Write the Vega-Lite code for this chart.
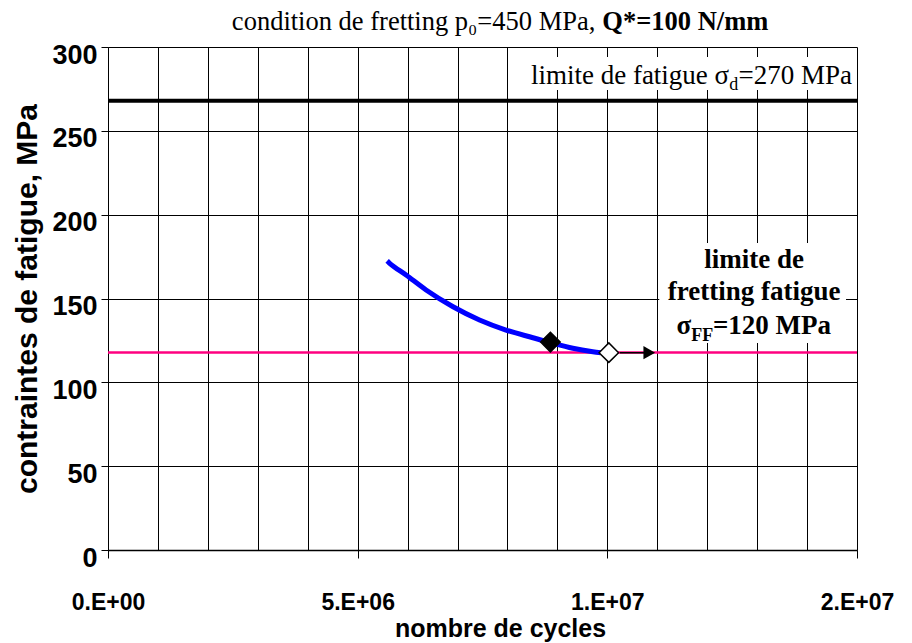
{
  "$schema": "https://vega.github.io/schema/vega-lite/v6.json",
  "width": 749,
  "height": 503,
  "autosize": {"type": "none"},
  "padding": {"left": 108, "top": 47, "right": 55, "bottom": 93},
  "background": "white",
  "config": {"view": {"stroke": null}},
  "resolve": {"axis": {"x": "independent", "y": "independent"}},
  "datasets": {
    "curve": [
      {"x": 5590000, "y": 172.4},
      {"x": 5630000, "y": 171.3},
      {"x": 5970000, "y": 164.0},
      {"x": 6370000, "y": 155.1},
      {"x": 6910000, "y": 145.1},
      {"x": 7440000, "y": 137.2},
      {"x": 7970000, "y": 131.2},
      {"x": 8510000, "y": 126.6},
      {"x": 8870000, "y": 123.6},
      {"x": 9310000, "y": 120.3},
      {"x": 9710000, "y": 118.3},
      {"x": 9870000, "y": 117.7}
    ],
    "pts": [
      {"x": 8860000, "y": 124.0, "kind": "filled"},
      {"x": 10030000, "y": 117.7, "kind": "open"}
    ],
    "limits": [
      {"x": 0, "y": 117.8, "series": "fretting"},
      {"x": 15000000, "y": 117.8, "series": "fretting"},
      {"x": 0, "y": 268, "series": "fatigue"},
      {"x": 15000000, "y": 268, "series": "fatigue"}
    ],
    "arrow": [{"x": 10250000, "x2": 10880000, "y": 117.7}],
    "head": [{"x": 10840000, "y": 117.7}],
    "boxes": [
      {"x": 8050000, "x2": 14970000, "y": 274.3, "y2": 294},
      {"x": 11040000, "x2": 14780000, "y": 123.5, "y2": 183.1}
    ],
    "labels": [
      {"g": "title_right", "text": "condition de fretting p₀=450 MPa,", "x": 9760000, "y": 310.1},
      {"g": "titlebold_left", "text": "Q*=100 N/mm", "x": 9900000, "y": 310.1},
      {"g": "serif_right", "text": "limite de fatigue σ", "x": 12440000, "y": 277.9},
      {"g": "serif_sub", "text": "d", "x": 12440000, "y": 274.3},
      {"g": "serif_right", "text": "=270 MPa", "x": 14900000, "y": 277.9},
      {"g": "serifbold_center", "text": "limite de", "x": 12940000, "y": 168.2},
      {"g": "serifbold_center", "text": "fretting fatigue", "x": 12940000, "y": 149.1},
      {"g": "serifbold_right", "text": "σ", "x": 11680000, "y": 128.8},
      {"g": "serifbold_sub", "text": "FF", "x": 11680000, "y": 124.6},
      {"g": "serifbold_right", "text": "=120 MPa", "x": 14480000, "y": 128.8}
    ]
  },
  "layer": [
    {
      "data": {"name": "limits"},
      "transform": [{"filter": "datum.series == 'fretting'"}],
      "mark": {"type": "line", "color": "#ff0080", "strokeWidth": 2.5},
      "encoding": {
        "x": {"field": "x", "type": "quantitative",
          "scale": {"domain": [0, 15000000], "nice": false, "zero": true},
          "axis": {"orient": "top", "values": [0,1000000,2000000,3000000,4000000,5000000,6000000,7000000,8000000,9000000,10000000,11000000,12000000,13000000,14000000,15000000],
            "grid": true, "gridColor": "black", "gridOpacity": 1, "gridWidth": 1,
            "ticks": false, "labels": false, "domain": false, "title": null}},
        "y": {"field": "y", "type": "quantitative",
          "scale": {"domain": [0, 300], "nice": false},
          "axis": {"orient": "left", "values": [0, 50, 100, 150, 200, 250, 300],
            "grid": true, "gridColor": "black", "gridOpacity": 1, "gridWidth": 1,
            "domainColor": "black", "domainWidth": 1,
            "tickColor": "black", "tickSize": 7, "tickWidth": 1,
            "labelFont": "Liberation Sans", "labelFontWeight": "bold", "labelFontSize": 27, "labelColor": "black", "labelPadding": 4, "labelOffset": 8,
            "title": "contraintes de fatigue, MPa",
            "titleFont": "Liberation Sans", "titleFontWeight": "bold", "titleFontSize": 30, "titleColor": "black", "titlePadding": 9}}
      }
    },
    {
      "data": {"name": "limits"},
      "transform": [{"filter": "datum.series == 'fatigue'"}],
      "mark": {"type": "line", "color": "black", "strokeWidth": 4},
      "encoding": {
        "x": {"field": "x", "type": "quantitative", "axis": null},
        "y": {"field": "y", "type": "quantitative", "axis": null}
      }
    },
    {
      "data": {"name": "boxes"},
      "mark": {"type": "rect", "fill": "white"},
      "encoding": {
        "x": {"field": "x", "type": "quantitative", "axis": null},
        "x2": {"field": "x2"},
        "y": {"field": "y", "type": "quantitative", "axis": null},
        "y2": {"field": "y2"}
      }
    },
    {
      "data": {"name": "curve"},
      "mark": {"type": "line", "color": "#0000ff", "strokeWidth": 5, "interpolate": "monotone"},
      "encoding": {
        "x": {"field": "x", "type": "quantitative",
          "axis": {"orient": "bottom", "values": [0, 5000000, 10000000, 15000000], "grid": false,
            "domainColor": "black", "domainWidth": 1.5,
            "tickColor": "black", "tickSize": 8, "tickWidth": 1,
            "labelExpr": "datum.value == 0 ? '0.E+00' : datum.value == 5000000 ? '5.E+06' : datum.value == 10000000 ? '1.E+07' : '2.E+07'",
            "labelFont": "Liberation Sans", "labelFontWeight": "bold", "labelFontSize": 23, "labelColor": "black",
            "labelPadding": 33, "labelFlush": false,
            "title": "nombre de cycles", "titleX": 392,
            "titleFont": "Liberation Sans", "titleFontWeight": "bold", "titleFontSize": 25, "titleColor": "black", "titlePadding": 2}},
        "y": {"field": "y", "type": "quantitative", "axis": null}
      }
    },
    {
      "data": {"name": "arrow"},
      "mark": {"type": "rule", "color": "black", "strokeWidth": 1.5},
      "encoding": {
        "x": {"field": "x", "type": "quantitative", "axis": null},
        "x2": {"field": "x2"},
        "y": {"field": "y", "type": "quantitative", "axis": null}
      }
    },
    {
      "data": {"name": "head"},
      "mark": {"type": "point", "shape": "triangle-right", "filled": true, "color": "black", "size": 180, "opacity": 1},
      "encoding": {
        "x": {"field": "x", "type": "quantitative", "axis": null},
        "y": {"field": "y", "type": "quantitative", "axis": null}
      }
    },
    {
      "data": {"name": "pts"},
      "mark": {"type": "point", "shape": "diamond", "size": 380, "stroke": "black", "strokeWidth": 1.5, "opacity": 1, "filled": true},
      "encoding": {
        "x": {"field": "x", "type": "quantitative", "axis": null},
        "y": {"field": "y", "type": "quantitative", "axis": null},
        "fill": {"field": "kind", "type": "nominal", "scale": {"domain": ["filled", "open"], "range": ["black", "white"]}, "legend": null}
      }
    },
    {
      "data": {"name": "labels"},
      "transform": [{"filter": "datum.g == 'title_right'"}],
      "mark": {"type": "text", "font": "Liberation Serif", "fontSize": 26.5, "align": "right", "baseline": "alphabetic", "color": "black"},
      "encoding": {
        "x": {"field": "x", "type": "quantitative", "axis": null},
        "y": {"field": "y", "type": "quantitative", "axis": null},
        "text": {"field": "text"}
      }
    },
    {
      "data": {"name": "labels"},
      "transform": [{"filter": "datum.g == 'titlebold_left'"}],
      "mark": {"type": "text", "font": "Liberation Serif", "fontWeight": "bold", "fontSize": 26.5, "align": "left", "baseline": "alphabetic", "color": "black"},
      "encoding": {
        "x": {"field": "x", "type": "quantitative", "axis": null},
        "y": {"field": "y", "type": "quantitative", "axis": null},
        "text": {"field": "text"}
      }
    },
    {
      "data": {"name": "labels"},
      "transform": [{"filter": "datum.g == 'serif_right'"}],
      "mark": {"type": "text", "font": "Liberation Serif", "fontSize": 27, "align": "right", "baseline": "alphabetic", "color": "black"},
      "encoding": {
        "x": {"field": "x", "type": "quantitative", "axis": null},
        "y": {"field": "y", "type": "quantitative", "axis": null},
        "text": {"field": "text"}
      }
    },
    {
      "data": {"name": "labels"},
      "transform": [{"filter": "datum.g == 'serif_sub'"}],
      "mark": {"type": "text", "font": "Liberation Serif", "fontSize": 18, "align": "left", "baseline": "alphabetic", "color": "black"},
      "encoding": {
        "x": {"field": "x", "type": "quantitative", "axis": null},
        "y": {"field": "y", "type": "quantitative", "axis": null},
        "text": {"field": "text"}
      }
    },
    {
      "data": {"name": "labels"},
      "transform": [{"filter": "datum.g == 'serifbold_right'"}],
      "mark": {"type": "text", "font": "Liberation Serif", "fontWeight": "bold", "fontSize": 27, "align": "right", "baseline": "alphabetic", "color": "black"},
      "encoding": {
        "x": {"field": "x", "type": "quantitative", "axis": null},
        "y": {"field": "y", "type": "quantitative", "axis": null},
        "text": {"field": "text"}
      }
    },
    {
      "data": {"name": "labels"},
      "transform": [{"filter": "datum.g == 'serifbold_center'"}],
      "mark": {"type": "text", "font": "Liberation Serif", "fontWeight": "bold", "fontSize": 27, "align": "center", "baseline": "alphabetic", "color": "black"},
      "encoding": {
        "x": {"field": "x", "type": "quantitative", "axis": null},
        "y": {"field": "y", "type": "quantitative", "axis": null},
        "text": {"field": "text"}
      }
    },
    {
      "data": {"name": "labels"},
      "transform": [{"filter": "datum.g == 'serifbold_sub'"}],
      "mark": {"type": "text", "font": "Liberation Serif", "fontWeight": "bold", "fontSize": 18, "align": "left", "baseline": "alphabetic", "color": "black"},
      "encoding": {
        "x": {"field": "x", "type": "quantitative", "axis": null},
        "y": {"field": "y", "type": "quantitative", "axis": null},
        "text": {"field": "text"}
      }
    }
  ]
}
